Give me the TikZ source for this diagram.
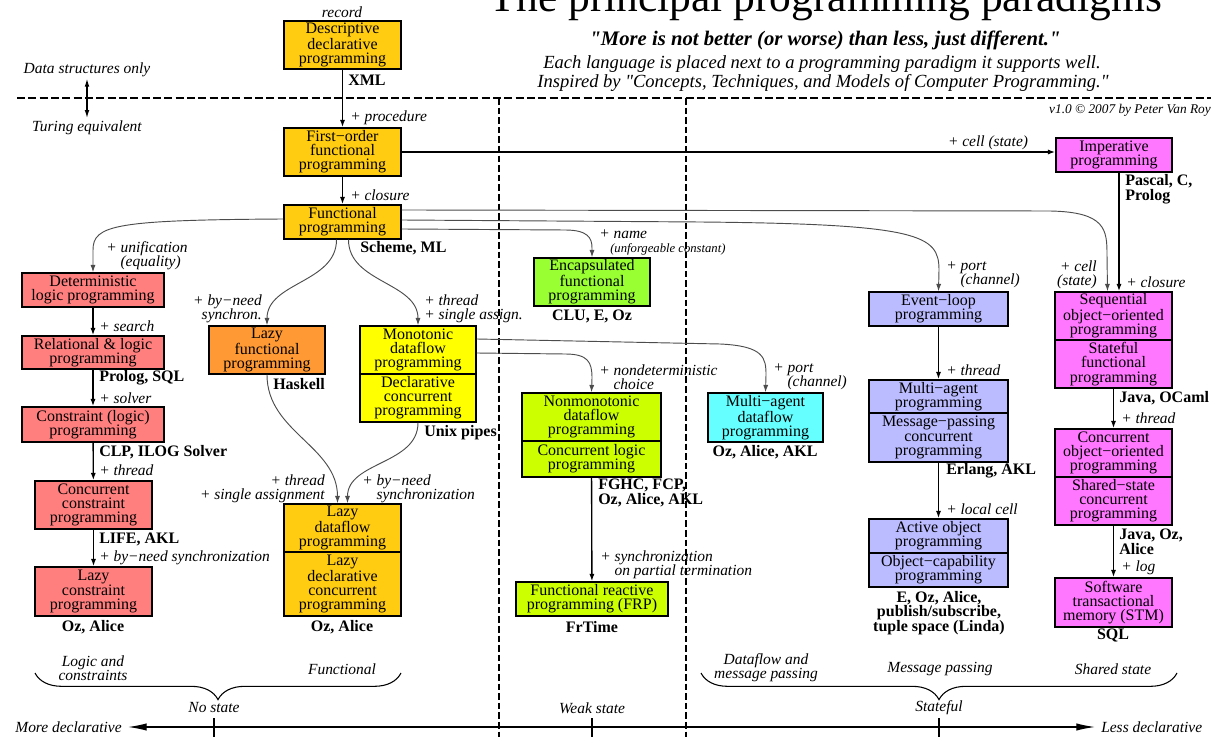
\documentclass[tikz,border=0pt]{standalone}
\usepackage{fontspec}
\setmainfont{Liberation Serif}[Ligatures=TeXOff]
\usetikzlibrary{arrows.meta,calc,decorations.pathreplacing}
\definecolor{cgold}{HTML}{FFCC11}
\definecolor{csalmon}{HTML}{FF7F7F}
\definecolor{corange}{HTML}{FF9933}
\definecolor{cyellow}{HTML}{FFFF00}
\definecolor{cgreen}{HTML}{99FF33}
\definecolor{cyg}{HTML}{CCFF00}
\definecolor{ccyan}{HTML}{66FFFF}
\definecolor{clav}{HTML}{BBBBFF}
\definecolor{cmag}{HTML}{FF77FF}
\newcommand\boxfont{\fontsize{12}{10.6}\selectfont}
\newcommand\lblfont{\fontsize{11.6}{10.8}\selectfont\itshape}
\newcommand\langfont{\fontsize{12}{11}\selectfont\bfseries}
\newcommand\paradigm[7]{\node[box, fill=#6, minimum width={(#4-#2)*0.75pt}, minimum height={(#5-#3)*0.75pt}] (#1) at ({(#2+#4)/2},{(#3+#5)/2}) {#7};}
\begin{document}
\begin{tikzpicture}[x=0.75pt,y=-0.75pt,
  box/.style={draw, line width=1.1pt, inner sep=0pt, align=center, font=\boxfont},
  lbl/.style={font=\lblfont, inner sep=0pt, align=left},
  lang/.style={font=\langfont, inner sep=0pt, align=left},
  arr/.style={line width=1pt, -{Latex[length=5.5pt,width=3.8pt]}},
  crv/.style={line width=0.7pt, draw=black!70, -{Latex[length=5.5pt,width=3.8pt]}},
  sepline/.style={line width=0.8pt, dash pattern=on 6pt off 2.5pt},
  vsep/.style={line width=0.8pt, dash pattern=on 5pt off 2.2pt},
  brc/.style={line width=0.8pt, decorate, decoration={brace, mirror, amplitude=20pt}},
  tickline/.style={line width=0.9pt}]
\useasboundingbox (0,0) rectangle (1218,737);

% header
\node[font=\fontsize{32.6}{36}\selectfont, anchor=base, inner sep=0pt] (title) at (826,12) {The principal programming paradigms};
\node[font=\fontsize{15.5}{17}\selectfont\bfseries\itshape, inner sep=0pt] (sub) at (825,40) {"More is not better (or worse) than less, just different."};
\node[font=\fontsize{13.9}{15}\selectfont\itshape, inner sep=0pt] (each) at (822,64) {Each language is placed next to a programming paradigm it supports well.};
\node[font=\fontsize{13.9}{15}\selectfont\itshape, inner sep=0pt] (insp) at (823,83) {Inspired by "Concepts, Techniques, and Models of Computer Programming."};
\node[lbl, font=\fontsize{10}{11}\selectfont\itshape, anchor=east] (lver) at (1211,110) {v1.0 © 2007 by Peter Van Roy};
\node[lbl] (dsonly) at (87,70) {Data structures only};
\node[lbl] (turing) at (87,128) {Turing equivalent};
\draw[line width=0.9pt, {Latex[length=6pt,width=3.5pt]}-{Latex[length=6pt,width=3.5pt]}, shorten <=1pt, shorten >=2pt] (dsonly.south) -- (turing.north);

% separators
\draw[sepline] (17,98) -- (1211,98);
\draw[vsep] (499,98) -- (499,737);
\draw[vsep] (686,98) -- (686,737);

% boxes
\paradigm{desc}{284}{21}{401}{69}{cgold}{Descriptive\\declarative\\programming}
\paradigm{fo}{284}{128}{401}{176}{cgold}{First−order\\functional\\programming}
\paradigm{func}{284}{205}{401}{239}{cgold}{Functional\\programming}
\paradigm{imp}{1056}{138}{1172}{172}{cmag}{Imperative\\programming}
\paradigm{det}{22}{273}{164}{307}{csalmon}{Deterministic\\logic programming}
\paradigm{rel}{22}{336}{164}{369}{csalmon}{Relational \& logic\\programming}
\paradigm{cons}{22}{407}{164}{442}{csalmon}{Constraint (logic)\\programming}
\paradigm{ccp}{35}{481}{152}{529}{csalmon}{Concurrent\\constraint\\programming}
\paradigm{lcp}{35}{567}{152}{616}{csalmon}{Lazy\\constraint\\programming}
\paradigm{lazyf}{209}{326}{325}{374}{corange}{Lazy\\functional\\programming}
\paradigm{mono}{360}{326}{476}{374}{cyellow}{Monotonic\\dataflow\\programming}
\paradigm{dcp}{360}{374}{476}{422}{cyellow}{Declarative\\concurrent\\programming}
\paradigm{ldf}{284}{504}{401}{552}{cgold}{Lazy\\dataflow\\programming}
\paradigm{ldcp}{284}{552}{401}{616}{cgold}{Lazy\\declarative\\concurrent\\programming}
\paradigm{enc}{534}{258}{650}{306}{cgreen}{Encapsulated\\functional\\programming}
\paradigm{nonmono}{522}{393}{661}{441}{cyg}{Nonmonotonic\\dataflow\\programming}
\paradigm{clp}{522}{441}{661}{477}{cyg}{Concurrent logic\\programming}
\paradigm{frp}{516}{582}{668}{616}{cyg}{Functional reactive\\programming (FRP)}
\paradigm{mad}{708}{393}{823}{442}{ccyan}{Multi−agent\\dataflow\\programming}
\paradigm{evl}{869}{292}{1008}{326}{clav}{Event−loop\\programming}
\paradigm{map}{869}{380}{1008}{413}{clav}{Multi−agent\\programming}
\paradigm{mpc}{869}{413}{1008}{462}{clav}{Message−passing\\concurrent\\programming}
\paradigm{aop}{869}{519}{1008}{553}{clav}{Active object\\programming}
\paradigm{ocp}{869}{553}{1008}{587}{clav}{Object−capability\\programming}
\paradigm{soop}{1055}{292}{1172}{340}{cmag}{Sequential\\object−oriented\\programming}
\paradigm{sfp}{1055}{340}{1172}{388}{cmag}{Stateful\\functional\\programming}
\paradigm{coop}{1055}{429}{1172}{477}{cmag}{Concurrent\\object−oriented\\programming}
\paradigm{sscp}{1055}{477}{1172}{525}{cmag}{Shared−state\\concurrent\\programming}
\paradigm{stm}{1055}{578}{1172}{627}{cmag}{Software\\transactional\\memory (STM)}

% straight connectors
\draw[arr] (desc) -- (fo);
\draw[arr] (fo) -- (func);
\draw[arr] (fo.east) -- (fo.east -| imp.west);
\draw[arr] (det) -- (rel);
\draw[arr] (rel) -- (cons);
\draw[arr] (cons) -- (ccp);
\draw[arr] (ccp) -- (lcp);
\draw[arr] (clp) -- (frp);
\draw[arr] (evl) -- (map);
\draw[arr] (mpc) -- (aop);
\draw[arr] ([xshift=3.75pt]imp.south) -- ([xshift=3.75pt]imp.south |- soop.north);
\draw[arr] (sfp) -- (coop);
\draw[arr] (sscp) -- (stm);

% curved connectors
\draw[crv] ($(func.west)+(0,-3)$) .. controls (115,220) and (93,225) .. (93,250) -- (det.north);
\draw[crv] ($(func.south)+(-6,0)$) to[out=-90,in=90] (lazyf.north);
\draw[crv] ($(func.south)+(6,0)$) to[out=-90,in=90] (mono.north);
\draw[crv] (lazyf.south) to[out=-90,in=90] ($(ldf.north)+(-5,0)$);
\draw[crv] (dcp.south) to[out=-90,in=90] ($(ldf.north)+(5,0)$);
\draw[crv] ($(func.east)+(0,-12)$) -- (1050,211) .. controls (1106,212) and (1107,230) .. (1107,255) -- ($(soop.north)+(-6,0)$);
\draw[crv] ($(func.east)+(0,-2)$) -- (700,222) .. controls (920,224) and (939,235) .. (939,270) -- (evl.north);
\draw[crv] ($(func.east)+(0,7)$) -- (565,230) .. controls (588,230) and (592,238) .. (592,248) -- (enc.north);
\draw[crv] ($(mono.east)+(0,-11)$) -- (720,344) .. controls (764,346) and (766,358) .. (766,375) -- (mad.north);
\draw[crv] ($(mono.east)+(0,3)$) -- (565,354) .. controls (588,354) and (592,362) .. (592,378) -- (nonmono.north);

% labels
\node[lbl] (lrecord) at (342,12) {record};
\node[lang, anchor=west] (lxml) at (348,80) {XML};
\node[lbl, anchor=west] (lproc) at (350,118) {+ procedure};
\node[lbl, anchor=west] (lclos) at (350,195) {+ closure};
\node[lang, anchor=west] (lscheme) at (360,248) {Scheme, ML};
\node[lbl] (lcell) at (988,143) {+ cell (state)};
\node[lang, anchor=west] (lpascal) at (1125,189) {Pascal, C,\\Prolog};

\node[lbl, anchor=west] (lunif) at (106,255.5) {+ unification\\\hphantom{+ }(equality)};
\node[lbl, anchor=west] (lsearch) at (99,326) {+ search};
\node[lang, anchor=west] (lprolog) at (99,378) {Prolog, SQL};
\node[lbl, anchor=west] (lsolver) at (99,398) {+ solver};
\node[lang, anchor=west] (lclpl) at (99,452) {CLP, ILOG Solver};
\node[lbl, anchor=west] (lthr1) at (99,470) {+ thread};
\node[lang, anchor=west] (llife) at (99,539) {LIFE, AKL};
\node[lbl, anchor=west] (lbyneed1) at (99,558) {+ by−need synchronization};
\node[lang] (loz1) at (93,627) {Oz, Alice};

\node[lbl, anchor=east, align=right] (lbyneed2) at (262,309) {+ by−need\\synchron.};
\node[lang, anchor=west] (lhaskell) at (273,384) {Haskell};
\node[lbl, anchor=west] (lthr2) at (424,309) {+ thread\\+ single assign.};
\node[lang, anchor=west] (lunix) at (424,433) {Unix pipes};
\node[lbl, anchor=east, align=right] (lthr3) at (325,489) {+ thread\\+ single assignment};
\node[lbl, anchor=west] (lbyneed3) at (362,489) {+ by−need\\\hphantom{+ }synchronization};
\node[lang] (loz2) at (342,627) {Oz, Alice};

\node[lbl, anchor=west] (lname) at (599,234) {+ name};
\node[lbl, anchor=west, font=\fontsize{9.5}{10}\selectfont\itshape] (lunforg) at (610,249) {(unforgeable constant)};
\node[lang] (lclu) at (592,316) {CLU, E, Oz};
\node[lbl, anchor=west] (lnondet) at (599,377) {+ nondeterministic\\\hphantom{+ }choice};
\node[lang, anchor=west] (lfghc) at (598,493) {FGHC, FCP,\\Oz, Alice, AKL};
\node[lbl, anchor=west] (lsync) at (600,565) {+ synchronization\\\hphantom{+ }on partial termination};
\node[lang] (lfrtime) at (592,627) {FrTime};
\node[lbl, anchor=west] (lport1) at (773,377) {+ port\\\hphantom{+ }(channel)};
\node[lang] (lozaa) at (765,452) {Oz, Alice, AKL};

\node[lbl, anchor=west] (lport2) at (946,275) {+ port\\\hphantom{+ }(channel)};
\node[lbl, anchor=west] (lthr4) at (946,370) {+ thread};
\node[lang, anchor=west] (lerlang) at (946,471) {Erlang, AKL};
\node[lbl, anchor=west] (llocal) at (946,509) {+ local cell};
\node[lang, align=center] (leoz) at (939,613) {E, Oz, Alice,\\publish/subscribe,\\tuple space (Linda)};
\node[lbl, anchor=east, align=right] (lcell2) at (1097,275) {+ cell\\(state)};
\node[lbl, anchor=west] (lclos2) at (1126,282) {+ closure};
\node[lang, anchor=west] (ljava1) at (1119,398) {Java, OCaml};
\node[lbl, anchor=west] (lthr5) at (1121,418) {+ thread};
\node[lang, anchor=west] (ljava2) at (1119,542) {Java, Oz,\\Alice};
\node[lbl, anchor=west] (llog) at (1121,568) {+ log};
\node[lang] (lsql) at (1113,636) {SQL};

% bottom categories
\node[lbl, align=center] (clogic) at (93,668) {Logic and\\constraints};
\node[lbl] (cfunc) at (342,669) {Functional};
\node[lbl] (nostate) at (214,708) {No state};
\node[lbl, align=center] (cdf) at (766,668) {Dataflow and\\message passing};
\node[lbl] (weak) at (592,708) {Weak state};
\node[lbl] (cmp) at (940,669) {Message passing};
\node[lbl] (css) at (1113,669) {Shared state};
\node[lbl] (stateful) at (939,708) {Stateful};
\draw[brc] (35,673) -- (401,673);
\draw[brc] (701,673) -- (1177,673);

% axis
\node[lbl, anchor=east] (moredecl) at (122,727) {More declarative};
\node[lbl, anchor=west] (lessdecl) at (1101,727) {Less declarative};
\draw[line width=0.9pt, {Latex[length=14pt,width=5.5pt]}-{Latex[length=14pt,width=5.5pt]}, shorten <=4.5pt, shorten >=4.5pt] (moredecl.east) -- (lessdecl.west);
\draw[tickline] (214,718) -- (214,737);
\draw[tickline] (592,718) -- (592,737);
\draw[tickline] (939,718) -- (939,737);
\end{tikzpicture}
\end{document}
